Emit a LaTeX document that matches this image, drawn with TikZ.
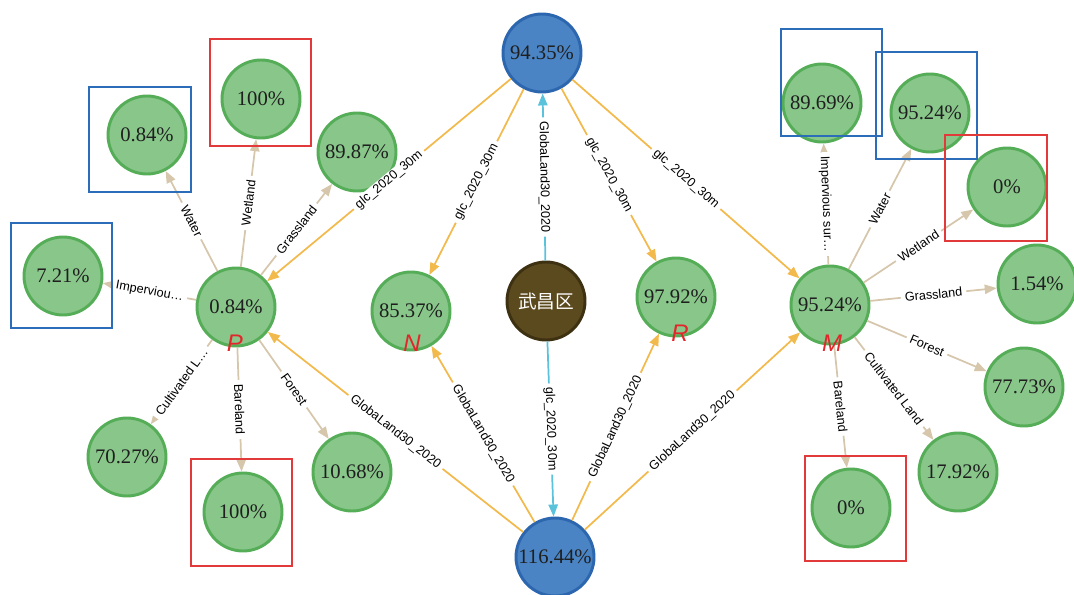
\documentclass[tikz,border=0pt]{standalone}
\usepackage{fontspec}
\setmainfont{Liberation Serif}
\setsansfont{Liberation Sans}
\newfontfamily\cjkfont{Noto Sans CJK SC}
\usetikzlibrary{arrows.meta}

\definecolor{leafFill}{HTML}{88C68A}
\definecolor{leafLine}{HTML}{55AD58}
\definecolor{hubFill}{HTML}{4A84C4}
\definecolor{hubLine}{HTML}{2C66AE}
\definecolor{rootFill}{HTML}{5C4A1F}
\definecolor{rootLine}{HTML}{3D3112}
\definecolor{goldEdge}{HTML}{F2B94C}
\definecolor{cyanEdge}{HTML}{5BC2DC}
\definecolor{tanEdge}{HTML}{D6C6AB}
\definecolor{markRed}{HTML}{E3262B}
\definecolor{frameRed}{HTML}{E2393A}
\definecolor{frameBlue}{HTML}{2B6DB8}

\tikzset{
  ball/.style={circle, minimum size=58.5pt, inner sep=0pt, line width=2.2pt,
    font=\fontsize{15.5}{18}\selectfont, text=black!88},
  leaf/.style={ball, fill=leafFill, draw=leafLine},
  hub/.style={ball, fill=hubFill, draw=hubLine},
  root/.style={ball, fill=rootFill, draw=rootLine, text=white,
    font=\cjkfont\fontsize{14}{16}\selectfont},
  link/.style={line width=1.3pt, -{Triangle[length=9pt,width=7pt]}},
  gold/.style={link, draw=goldEdge},
  cyanlink/.style={link, draw=cyanEdge},
  tan/.style={link, draw=tanEdge},
  lab/.style={sloped, midway, fill=white, inner xsep=3pt, inner ysep=0.6pt,
    font=\sffamily\fontsize{9.5}{11}\selectfont, text=black},
  tag/.style={font=\sffamily\itshape\fontsize{18}{20}\selectfont, text=markRed, inner sep=0pt},
  redframe/.style={draw=frameRed, line width=1.1pt},
  blueframe/.style={draw=frameBlue, line width=1.1pt},
}

\begin{document}
\begin{tikzpicture}[x=0.75pt, y=-0.75pt]
\useasboundingbox (0,0) rectangle (1074,595);

% central district and the two dataset hubs
\node[root] (W) at (546,301) {武昌区};
\node[hub]  (T) at (542,53)  {94.35\%};
\node[hub]  (B) at (555,557) {116.44\%};

% comparison nodes
\node[leaf] (P) at (236,307) {0.84\%};
\node[leaf] (N) at (411,311) {85.37\%};
\node[leaf] (R) at (676,297) {97.92\%};
\node[leaf] (M) at (830,305) {95.24\%};

% land-cover classes of P
\node[leaf] (pWater) at (147,135) {0.84\%};
\node[leaf] (pWet)   at (261,99)  {100\%};
\node[leaf] (pGrass) at (357,152) {89.87\%};
\node[leaf] (pImp)   at (63,276)  {7.21\%};
\node[leaf] (pCult)  at (127,457) {70.27\%};
\node[leaf] (pBare)  at (243,512) {100\%};
\node[leaf] (pFor)   at (352,472) {10.68\%};

% land-cover classes of M
\node[leaf] (mImp)   at (822,103)  {89.69\%};
\node[leaf] (mWater) at (930,113)  {95.24\%};
\node[leaf] (mWet)   at (1007,187) {0\%};
\node[leaf] (mGrass) at (1037,284) {1.54\%};
\node[leaf] (mFor)   at (1024,387) {77.73\%};
\node[leaf] (mCult)  at (958,472)  {17.92\%};
\node[leaf] (mBare)  at (851,508)  {0\%};

% district to hubs
\draw[cyanlink] (W) -- node[lab]{GlobaLand30\_2020} (T);
\draw[cyanlink] (W) -- node[lab]{glc\_2020\_30m} (B);

% hubs to comparison nodes
\draw[gold] (T) -- node[lab]{glc\_2020\_30m} (P);
\draw[gold] (T) -- node[lab]{glc\_2020\_30m} (N);
\draw[gold] (T) -- node[lab]{glc\_2020\_30m} (R);
\draw[gold] (T) -- node[lab]{glc\_2020\_30m} (M);
\draw[gold] (B) -- node[lab]{GlobaLand30\_2020} (P);
\draw[gold] (B) -- node[lab]{GlobaLand30\_2020} (N);
\draw[gold] (B) -- node[lab]{GlobaLand30\_2020} (R);
\draw[gold] (B) -- node[lab]{GlobaLand30\_2020} (M);

% P classes
\draw[tan] (P) -- node[lab]{Water} (pWater);
\draw[tan] (P) -- node[lab]{Wetland} (pWet);
\draw[tan] (P) -- node[lab]{Grassland} (pGrass);
\draw[tan] (P) -- node[lab]{Imperviou…} (pImp);
\draw[tan] (P) -- node[lab]{Cultivated L…} (pCult);
\draw[tan] (P) -- node[lab]{Bareland} (pBare);
\draw[tan] (P) -- node[lab]{Forest} (pFor);

% M classes
\draw[tan] (M) -- node[lab]{Impervious sur…} (mImp);
\draw[tan] (M) -- node[lab]{Water} (mWater);
\draw[tan] (M) -- node[lab]{Wetland} (mWet);
\draw[tan] (M) -- node[lab]{Grassland} (mGrass);
\draw[tan] (M) -- node[lab]{Forest} (mFor);
\draw[tan] (M) -- node[lab]{Cultivated Land} (mCult);
\draw[tan] (M) -- node[lab]{Bareland} (mBare);

% highlight frames
\draw[blueframe] (89,87) rectangle (191,192);
\draw[redframe]  (210,39) rectangle (311,146);
\draw[blueframe] (11,223) rectangle (112,328);
\draw[redframe]  (191,459) rectangle (292,566);
\draw[blueframe] (781,29) rectangle (882,136);
\draw[blueframe] (876,52) rectangle (977,159);
\draw[redframe]  (945,135) rectangle (1047,241);
\draw[redframe]  (805,456) rectangle (906,561);

% metric tags
\node[tag] (tP) at ([shift={(-1,36)}]P.center) {P};
\node[tag] (tN) at ([shift={(1,32)}]N.center) {N};
\node[tag] (tR) at ([shift={(4,36)}]R.center) {R};
\node[tag] (tM) at ([shift={(2,38)}]M.center) {M};
\end{tikzpicture}
\end{document}
